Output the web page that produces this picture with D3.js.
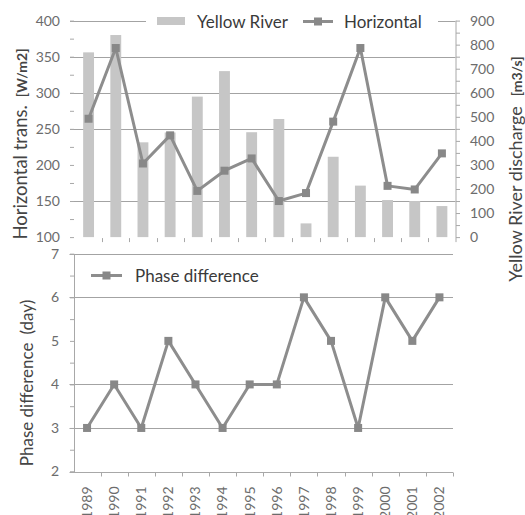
<!DOCTYPE html>
<html>
<head>
<meta charset="utf-8">
<script src="https://cdn.jsdelivr.net/npm/d3@7"></script>
<style>
  body { margin: 0; background: #fff; }
  svg { display: block; font-family: Lato, 'Open Sans', sans-serif; }
  .tick-label { fill: #6c6c6c; font-size: 14px; }
  .axis-title { fill: #454545; font-size: 17px; }
  .axis-unit { font-size: 14px; font-weight: bold; }
  .legend-label { fill: #3a3a3a; font-size: 17px; }
  .grid line { stroke: #a3a3a3; stroke-width: 1; }
  .tick line, .axis-line { stroke: #a8a8a8; stroke-width: 1; }
</style>
</head>
<body>
<div id="chart"></div>
<script>
// years on the shared category axis
const years = ['1989', '1990', '1991', '1992', '1993', '1994', '1995',
  '1996', '1997', '1998', '1999', '2000', '2001', '2002'];

// Yellow River discharge [m3/s] (bars, right axis)
const riverDischarge = [768, 840, 394, 435, 584, 690, 436, 491, 57, 334, 214, 154, 150, 129];

// Horizontal transport [W/m2] (line, left axis)
const horizontalTrans = [264, 362, 202, 241, 164, 192, 209, 150, 161, 260, 362, 171, 166, 216];

// Phase difference (day)
const phaseDiff = [3, 4, 3, 5, 4, 3, 4, 4, 6, 5, 3, 6, 5, 6];

// tick labels
const transTicks = [100, 150, 200, 250, 300, 350, 400];
const dischargeTicks = [0, 100, 200, 300, 400, 500, 600, 700, 800, 900];
const phaseTicks = [2, 3, 4, 5, 6, 7];

// gridlines that show in the original
const transGrid = [150, 250, 300, 350, 400];
const phaseGrid = [3, 4, 6, 7];

const svg = d3.select('#chart')
  .append('svg')
  .attr('width', 525)
  .attr('height', 515);

class TransportChart {
  constructor(_config) {
    this.config = {
      left: _config.left,
      right: _config.right,
      top: _config.top,
      bottom: _config.bottom,
      lineColor: '#8d8d8d',
      markerColor: '#888888',
      barColor: '#c6c6c6',
      markerSize: 8,
    };
    this.initVis();
  }

  initVis() {
    let vis = this;
    const c = vis.config;

    vis.xScale = d3.scaleBand()
      .domain(years)
      .range([c.left, c.right])
      .paddingInner(0.6)
      .paddingOuter(0.3);

    vis.yLeft = d3.scaleLinear()
      .domain([100, 400])
      .range([c.bottom, c.top]);

    vis.yRight = d3.scaleLinear()
      .domain([0, 900])
      .range([c.bottom, c.top]);

    vis.chart = svg.append('g').attr('class', 'top-chart');

    vis.renderVis();
  }

  renderVis() {
    let vis = this;
    const c = vis.config;
    const step = vis.xScale.step();
    const cx = (d) => vis.xScale(d) + vis.xScale.bandwidth() / 2;

    // gridlines
    vis.chart.append('g')
      .attr('class', 'grid')
      .selectAll('line')
      .data(transGrid)
      .join('line')
      .attr('x1', c.left - 5)
      .attr('x2', c.right)
      .attr('y1', (d) => Math.round(vis.yLeft(d)) + 0.5)
      .attr('y2', (d) => Math.round(vis.yLeft(d)) + 0.5);

    // left minor ticks (every 25)
    vis.chart.append('g')
      .attr('transform', `translate(${c.left - 1},0)`)
      .call(d3.axisLeft(vis.yLeft).tickValues(d3.range(100, 401, 25)).tickSize(4).tickFormat(''))
      .call((g) => g.select('.domain').remove());

    // left labels
    vis.chart.append('g')
      .selectAll('text')
      .data(transTicks)
      .join('text')
      .attr('class', 'tick-label')
      .attr('x', 60)
      .attr('y', (d) => vis.yLeft(d))
      .attr('dy', '0.35em')
      .attr('text-anchor', 'end')
      .text((d) => d);

    // right axis
    vis.chart.append('g')
      .attr('transform', `translate(${c.right + 0.5},0)`)
      .call(d3.axisRight(vis.yRight).tickValues(d3.range(0, 901, 50)).tickSize(4).tickFormat(''))
      .call((g) => g.select('.domain').remove());

    vis.chart.append('line')
      .attr('class', 'axis-line')
      .attr('x1', c.right + 0.5)
      .attr('x2', c.right + 0.5)
      .attr('y1', c.top)
      .attr('y2', c.bottom + 5);

    vis.chart.append('g')
      .selectAll('text')
      .data(dischargeTicks)
      .join('text')
      .attr('class', 'tick-label')
      .attr('x', 470)
      .attr('y', (d) => vis.yRight(d))
      .attr('dy', '0.35em')
      .text((d) => d);

    // category ticks below the plot
    vis.chart.append('g')
      .selectAll('line')
      .data(years.slice(1))
      .join('line')
      .attr('class', 'axis-line')
      .attr('x1', (d) => Math.round(vis.xScale(d) - (step - vis.xScale.bandwidth()) / 2) + 0.5)
      .attr('x2', (d) => Math.round(vis.xScale(d) - (step - vis.xScale.bandwidth()) / 2) + 0.5)
      .attr('y1', c.bottom + 1)
      .attr('y2', c.bottom + 5);

    // bars
    vis.chart.append('g')
      .selectAll('rect')
      .data(years)
      .join('rect')
      .attr('x', (d) => vis.xScale(d))
      .attr('width', vis.xScale.bandwidth())
      .attr('y', (d, i) => vis.yRight(riverDischarge[i]))
      .attr('height', (d, i) => vis.yRight(0) - vis.yRight(riverDischarge[i]))
      .attr('fill', c.barColor);

    // line
    const line = d3.line()
      .x((d) => cx(d))
      .y((d, i) => vis.yLeft(horizontalTrans[i]));

    vis.chart.append('path')
      .datum(years)
      .attr('d', line)
      .attr('fill', 'none')
      .attr('stroke', c.lineColor)
      .attr('stroke-width', 3)
      .attr('stroke-linejoin', 'round');

    vis.chart.append('g')
      .selectAll('rect')
      .data(years)
      .join('rect')
      .attr('x', (d) => cx(d) - c.markerSize / 2)
      .attr('y', (d, i) => vis.yLeft(horizontalTrans[i]) - c.markerSize / 2)
      .attr('width', c.markerSize)
      .attr('height', c.markerSize)
      .attr('fill', c.markerColor);

    // legend (white box hides the 400 gridline)
    const legend = vis.chart.append('g').attr('class', 'legend');
    legend.append('rect')
      .attr('x', 146)
      .attr('y', 10)
      .attr('width', 292)
      .attr('height', 24)
      .attr('fill', '#fff');
    legend.append('rect')
      .attr('x', 157)
      .attr('y', 17)
      .attr('width', 28)
      .attr('height', 8)
      .attr('fill', c.barColor);
    legend.append('text')
      .attr('class', 'legend-label')
      .attr('x', 197)
      .attr('y', 28)
      .text('Yellow River');
    legend.append('line')
      .attr('x1', 303)
      .attr('x2', 333)
      .attr('y1', 21.5)
      .attr('y2', 21.5)
      .attr('stroke', c.lineColor)
      .attr('stroke-width', 3);
    legend.append('rect')
      .attr('x', 318 - c.markerSize / 2)
      .attr('y', 21.5 - c.markerSize / 2)
      .attr('width', c.markerSize)
      .attr('height', c.markerSize)
      .attr('fill', c.markerColor);
    legend.append('text')
      .attr('class', 'legend-label')
      .attr('x', 344)
      .attr('y', 28)
      .text('Horizontal');

    // axis titles
    const leftTitle = vis.chart.append('text')
      .attr('class', 'axis-title')
      .attr('text-anchor', 'middle')
      .style('font-size', '18.5px')
      .attr('transform', 'translate(27,144) rotate(-90)');
    leftTitle.append('tspan').text('Horizontal trans.');
    leftTitle.append('tspan').attr('class', 'axis-unit').attr('dx', 8).text('[W/m2]');

    const rightTitle = vis.chart.append('text')
      .attr('class', 'axis-title')
      .attr('text-anchor', 'middle')
      .style('font-size', '18px')
      .attr('transform', 'translate(522,169) rotate(-90)');
    rightTitle.append('tspan').text('Yellow River discharge');
    rightTitle.append('tspan').attr('class', 'axis-unit').attr('dx', 10).text('[m3/s]');
  }
}

class PhaseChart {
  constructor(_config) {
    this.config = {
      left: _config.left,
      right: _config.right,
      top: _config.top,
      bottom: _config.bottom,
      lineColor: '#8d8d8d',
      markerColor: '#888888',
      markerSize: 8,
    };
    this.initVis();
  }

  initVis() {
    let vis = this;
    const c = vis.config;

    vis.xScale = d3.scaleBand()
      .domain(years)
      .range([c.left, c.right]);

    vis.yScale = d3.scaleLinear()
      .domain([2, 7])
      .range([c.bottom, c.top]);

    vis.chart = svg.append('g').attr('class', 'phase-chart');
    vis.renderVis();
  }

  renderVis() {
    let vis = this;
    const c = vis.config;
    const cx = (d) => vis.xScale(d) + vis.xScale.bandwidth() / 2;

    vis.chart.append('g')
      .attr('class', 'grid')
      .selectAll('line')
      .data(phaseGrid)
      .join('line')
      .attr('x1', c.left - 4)
      .attr('x2', c.right)
      .attr('y1', (d) => Math.round(vis.yScale(d)) + 0.5)
      .attr('y2', (d) => Math.round(vis.yScale(d)) + 0.5);

    // y axis with half-day ticks
    vis.chart.append('g')
      .attr('transform', `translate(${c.left + 0.5},0)`)
      .call(d3.axisLeft(vis.yScale).tickValues(d3.range(2, 7.01, 0.5)).tickSize(4).tickFormat(''))
      .call((g) => g.select('.domain').attr('stroke', '#a8a8a8'));

    vis.chart.append('g')
      .selectAll('text')
      .data(phaseTicks)
      .join('text')
      .attr('class', 'tick-label')
      .attr('x', 59)
      .attr('y', (d) => vis.yScale(d))
      .attr('dy', '0.35em')
      .attr('text-anchor', 'end')
      .text((d) => d);

    // x axis
    const xAxis = vis.chart.append('g')
      .attr('transform', `translate(0,${Math.round(c.bottom) + 0.5})`);
    xAxis.append('line')
      .attr('class', 'axis-line')
      .attr('x1', c.left - 4)
      .attr('x2', c.right);
    xAxis.selectAll('.xtick')
      .data(years)
      .join('line')
      .attr('class', 'axis-line xtick')
      .attr('x1', (d) => Math.round(vis.xScale(d) + vis.xScale.step()) + 0.5)
      .attr('x2', (d) => Math.round(vis.xScale(d) + vis.xScale.step()) + 0.5)
      .attr('y1', 0)
      .attr('y2', 4);
    xAxis.selectAll('.year')
      .data(years)
      .join('text')
      .attr('class', 'tick-label year')
      .attr('text-anchor', 'end')
      .attr('dy', '0.35em')
      .attr('transform', (d) => `translate(${cx(d)},14) rotate(-90)`)
      .text((d) => d);

    // series
    const line = d3.line()
      .x((d) => cx(d))
      .y((d, i) => vis.yScale(phaseDiff[i]));

    vis.chart.append('path')
      .datum(years)
      .attr('d', line)
      .attr('fill', 'none')
      .attr('stroke', c.lineColor)
      .attr('stroke-width', 3)
      .attr('stroke-linejoin', 'round');

    vis.chart.append('g')
      .selectAll('rect')
      .data(years)
      .join('rect')
      .attr('x', (d) => cx(d) - c.markerSize / 2)
      .attr('y', (d, i) => vis.yScale(phaseDiff[i]) - c.markerSize / 2)
      .attr('width', c.markerSize)
      .attr('height', c.markerSize)
      .attr('fill', c.markerColor);

    // legend
    const legend = vis.chart.append('g').attr('class', 'legend');
    legend.append('line')
      .attr('x1', 91)
      .attr('x2', 122)
      .attr('y1', 275.5)
      .attr('y2', 275.5)
      .attr('stroke', c.lineColor)
      .attr('stroke-width', 3);
    legend.append('rect')
      .attr('x', 106.5 - c.markerSize / 2)
      .attr('y', 275.5 - c.markerSize / 2)
      .attr('width', c.markerSize)
      .attr('height', c.markerSize)
      .attr('fill', c.markerColor);
    legend.append('text')
      .attr('class', 'legend-label')
      .attr('x', 135)
      .attr('y', 281.5)
      .text('Phase difference');

    const title = vis.chart.append('text')
      .attr('class', 'axis-title')
      .attr('text-anchor', 'middle')
      .attr('transform', 'translate(33,383) rotate(-90)');
    title.append('tspan').text('Phase difference');
    title.append('tspan').attr('dx', 8).text('(day)');
  }
}

new TransportChart({ left: 75, right: 455.5, top: 20.6, bottom: 237.1 });
new PhaseChart({ left: 73.5, right: 453, top: 253.8, bottom: 471.5 });
</script>
</body>
</html>
